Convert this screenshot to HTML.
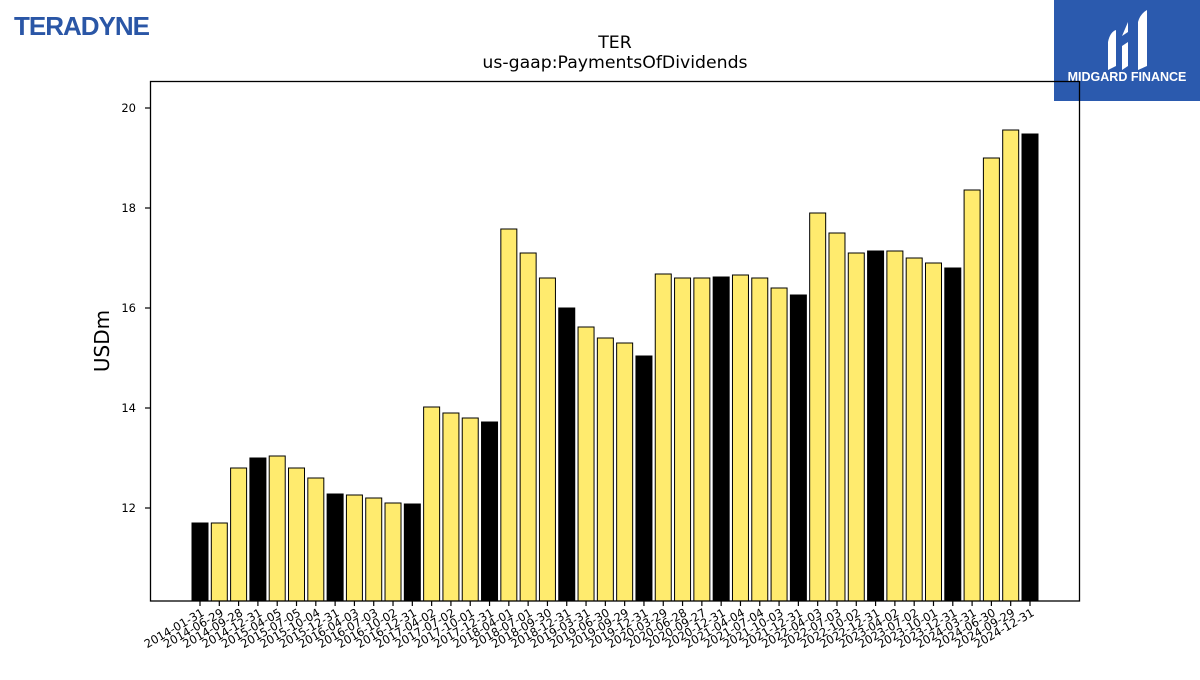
<!DOCTYPE html>
<html><head><meta charset="utf-8"><style>
body{margin:0;background:#fff;}
svg text{font-family:"DejaVu Sans","Liberation Sans",sans-serif;}
</style></head><body>
<svg id="chart" width="1200" height="675" viewBox="0 0 1200 675" xmlns="http://www.w3.org/2000/svg">
<text x="14" y="35" font-size="26" font-weight="bold" fill="#2a56a6" style="font-family:'Liberation Sans',sans-serif;letter-spacing:-1px">TERADYNE</text>
<g>
<rect x="1054" y="0" width="146" height="101" fill="#2b5aae"/>
<path d="M1108 70 L1108 42 Q1110 32 1116 30 L1116 66 Z" fill="#fff"/>
<path d="M1122 70 L1122 46 L1128 42 L1128 66 Z M1122 36 L1128 22 L1128 32 Z" fill="#fff"/>
<path d="M1138 70 L1138 22 Q1140 14 1147 10 L1147 66 Z" fill="#fff"/>
<text x="1127" y="81" font-size="12.5" font-weight="bold" fill="#fff" text-anchor="middle" style="font-family:'Liberation Sans',sans-serif">MIDGARD FINANCE</text>
</g>
<text x="615" y="48" font-size="17.3" text-anchor="middle">TER</text>
<text x="615" y="68" font-size="17.3" text-anchor="middle">us-gaap:PaymentsOfDividends</text>
<text transform="translate(109,341) rotate(-90)" font-size="20" text-anchor="middle">USDm</text>
<g id="bars"></g><g id="yaxis"></g><g id="xaxis"></g>
<rect x="150.5" y="81.5" width="929" height="519.5" fill="none" stroke="#000" stroke-width="1.3"/>
</svg>
<script>
const categories=["2014-01-31","2014-06-29","2014-09-28","2014-12-31","2015-04-05","2015-07-05","2015-10-04","2015-12-31","2016-04-03","2016-07-03","2016-10-02","2016-12-31","2017-04-02","2017-07-02","2017-10-01","2017-12-31","2018-04-01","2018-07-01","2018-09-30","2018-12-31","2019-03-31","2019-06-30","2019-09-29","2019-12-31","2020-03-29","2020-06-28","2020-09-27","2020-12-31","2021-04-04","2021-07-04","2021-10-03","2021-12-31","2022-04-03","2022-07-03","2022-10-02","2022-12-31","2023-04-02","2023-07-02","2023-10-01","2023-12-31","2024-03-31","2024-06-30","2024-09-29","2024-12-31"];
const values=[11.7,11.7,12.8,13.0,13.04,12.8,12.6,12.28,12.26,12.2,12.1,12.08,14.02,13.9,13.8,13.72,17.58,17.1,16.6,16.0,15.62,15.4,15.3,15.04,16.68,16.6,16.6,16.62,16.66,16.6,16.4,16.26,17.9,17.5,17.1,17.14,17.14,17.0,16.9,16.8,18.36,19.0,19.56,19.48];
const yTicks=[12,14,16,18,20];
const NS="http://www.w3.org/2000/svg";
const yMin=10.14,yMax=20.54,yTop=81,yBottom=601;
const y=v=>yBottom-(v-yMin)/(yMax-yMin)*(yBottom-yTop);
const x0=200,x1=1030;
const x=i=>x0+i*(x1-x0)/(categories.length-1);
function mk(t,a,p){const e=document.createElementNS(NS,t);for(const k in a)e.setAttribute(k,a[k]);p.appendChild(e);return e;}
const gb=document.getElementById('bars'),gx=document.getElementById('xaxis'),gy=document.getElementById('yaxis');
values.forEach((v,i)=>{
 const annual=categories[i].endsWith("12-31")||i===0;
 const r=mk('rect',{x:x(i)-8,y:y(v),width:16,height:yBottom-y(v),fill:annual?'#000':'#ffeb6e',stroke:'#000','stroke-width':1},gb);
 
 
 const t=mk('line',{x1:x(i),x2:x(i),y1:yBottom,y2:yBottom+5,stroke:'#000','stroke-width':1.2},gx);
 
 
 const l=mk('text',{'font-size':11.5,'text-anchor':'end',transform:`translate(${x(i)+5},${yBottom+14}) rotate(-30)`},gx);
 l.textContent=categories[i];
 
 
});
yTicks.forEach(v=>{
 const t=mk('line',{x1:145,x2:150,y1:y(v),y2:y(v),stroke:'#000','stroke-width':1.2},gy);
 
 
 const l=mk('text',{x:136,y:y(v)+4,'font-size':11.5,'text-anchor':'end'},gy);
 l.textContent=v;
 
 
});
</script>
</body></html>
